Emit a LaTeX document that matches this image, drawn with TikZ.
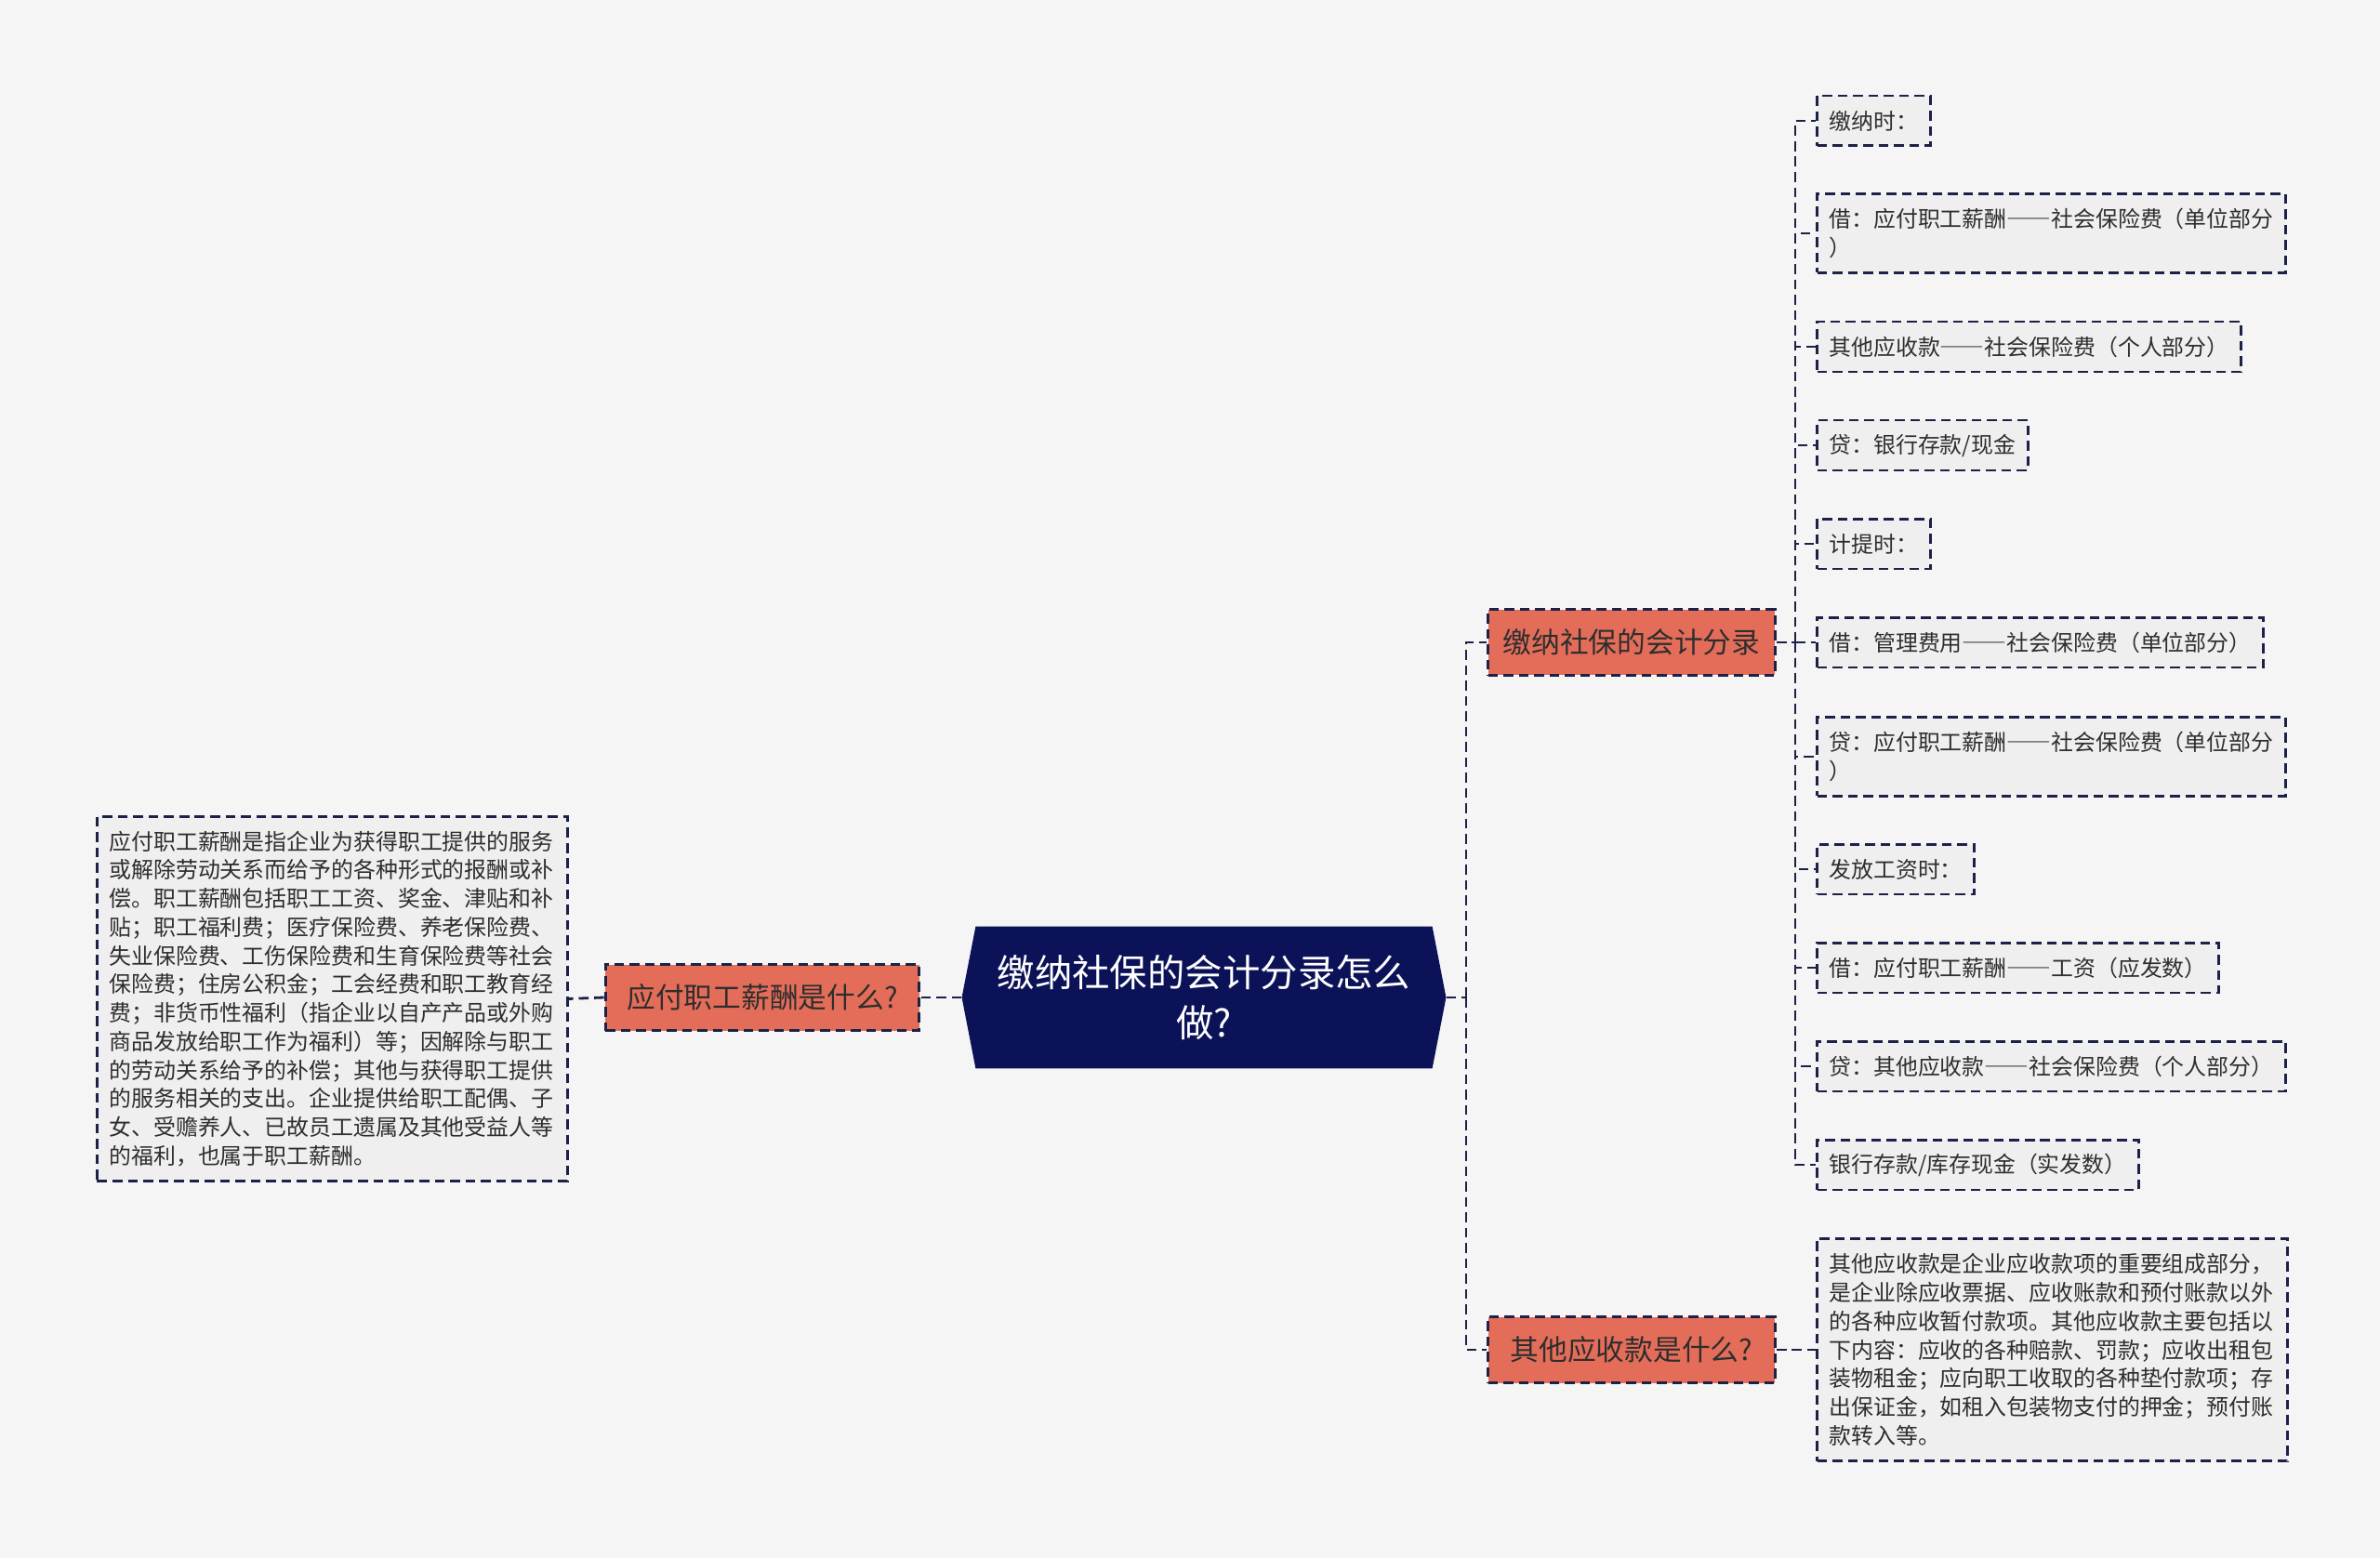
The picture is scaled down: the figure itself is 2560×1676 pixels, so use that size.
\documentclass[tikz,border=0pt]{standalone}
\usepackage{fontspec}
\setmainfont{Noto Sans CJK SC}
\newcommand{\wdash}{{\addfontfeature{RawFeature=+fwid}——}}
\usetikzlibrary{shapes.symbols}
\definecolor{paper}{HTML}{F5F5F5}
\definecolor{navy}{HTML}{0B1257}
\definecolor{salmon}{HTML}{E46D5A}
\definecolor{leaf}{HTML}{EFEFEF}
\definecolor{edge}{HTML}{1C2147}
\definecolor{ink}{HTML}{2E2E2E}

\begin{document}
\begin{tikzpicture}[x=0.02cm,y=-0.02cm,
    conn/.style={draw=edge,line width=1.6pt,dash pattern=on 6pt off 3.4pt},
    root/.style={signal,signal to=west and east,signal pointer angle=158,fill=navy,text=white,minimum width=10.42cm,minimum height=3.06cm,align=center,inner sep=0pt,font=\fontsize{23}{30.6}\selectfont},
    topic/.style={rectangle,draw=edge,line width=1.7pt,dash pattern=on 6pt off 3.4pt,fill=salmon,text=ink,minimum width=6.18cm,minimum height=1.42cm,inner xsep=0.2cm,font=\fontsize{17.5}{22}\selectfont},
    item/.style={rectangle,draw=edge,line width=1.7pt,dash pattern=on 6pt off 3.4pt,fill=leaf,text=ink,align=left,inner xsep=0.26cm,minimum height=1.08cm,anchor=west,font=\fontsize{13.6}{17.5}\selectfont},
    note/.style={item,text width=9.6cm}]
    \fill[paper] (0,0) rectangle (2560,1676);
    \useasboundingbox (0,0) rectangle (2560,1676);
    \node[root] (root) at (1295,1073) {缴纳社保的会计分录怎么\\做?};
    \node[topic,minimum width=6.76cm] (pay) at (820,1073) {应付职工薪酬是什么?};
    \node[topic] (entry) at (1755,691) {缴纳社保的会计分录};
    \node[topic] (other) at (1755,1452) {其他应收款是什么?};
    \node[note,anchor=north west,minimum height=7.84cm] (paynote) at (103,877) {应付职工薪酬是指企业为获得职工提供的服务\\或解除劳动关系而给予的各种形式的报酬或补\\偿。职工薪酬包括职工工资、奖金、津贴和补\\贴；职工福利费；医疗保险费、养老保险费、\\失业保险费、工伤保险费和生育保险费等社会\\保险费；住房公积金；工会经费和职工教育经\\费；非货币性福利（指企业以自产产品或外购\\商品发放给职工作为福利）等；因解除与职工\\的劳动关系给予的补偿；其他与获得职工提供\\的服务相关的支出。企业提供给职工配偶、子\\女、受赡养人、已故员工遗属及其他受益人等\\的福利，也属于职工薪酬。};
    \node[note,minimum height=4.8cm] (othernote) at (1953,1452) {其他应收款是企业应收款项的重要组成部分，\\是企业除应收票据、应收账款和预付账款以外\\的各种应收暂付款项。其他应收款主要包括以\\下内容：应收的各种赔款、罚款；应收出租包\\装物租金；应向职工收取的各种垫付款项；存\\出保证金，如租入包装物支付的押金；预付账\\款转入等。};
    \node[item] (i1) at (1953,130) {缴纳时：};
    \node[item,minimum height=1.7cm] (i2) at (1953,251) {借：应付职工薪酬\wdash 社会保险费（单位部分\\）};
    \node[item] (i3) at (1953,373) {其他应收款\wdash 社会保险费（个人部分）};
    \node[item] (i4) at (1953,479) {贷：银行存款/现金};
    \node[item] (i5) at (1953,585) {计提时：};
    \node[item] (i6) at (1953,691) {借：管理费用\wdash 社会保险费（单位部分）};
    \node[item,minimum height=1.7cm] (i7) at (1953,814) {贷：应付职工薪酬\wdash 社会保险费（单位部分\\）};
    \node[item] (i8) at (1953,935) {发放工资时：};
    \node[item] (i9) at (1953,1041) {借：应付职工薪酬\wdash 工资（应发数）};
    \node[item] (i10) at (1953,1147) {贷：其他应收款\wdash 社会保险费（个人部分）};
    \node[item] (i11) at (1953,1253) {银行存款/库存现金（实发数）};
    \coordinate (hub) at (1577,1073);
    \coordinate (spine) at (1931,691);
    \draw[conn] (root.east) -- (hub);
    \draw[conn] (hub) |- (entry.west);
    \draw[conn] (hub) |- (other.west);
    \draw[conn] (root.west) -- (pay.east);
    \draw[conn] (pay.west) -- (paynote.east);
    \draw[conn] (other.east) -- (othernote.west);
    \draw[conn] (entry.east) -- (spine);
    \foreach \n in {i1,i2,i3,i4,i5,i6,i7,i8,i9,i10,i11}
      \draw[conn] (spine) |- (\n.west);
\end{tikzpicture}
\end{document}
